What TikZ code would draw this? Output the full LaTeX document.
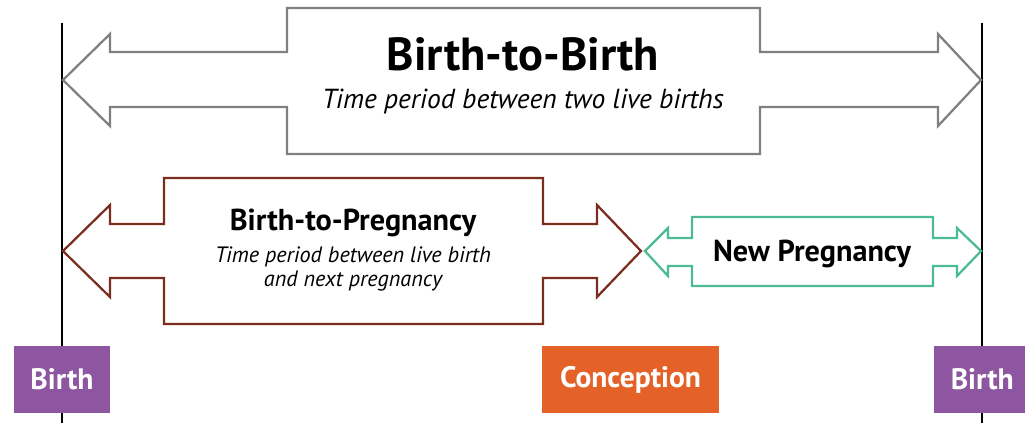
\documentclass[tikz,border=0pt]{standalone}
\usepackage{fontspec}
\setmainfont{PT Sans}
\usepackage{tikz}

\begin{document}
\begin{tikzpicture}[x=0.025cm,y=-0.025cm,line join=miter]
 \definecolor{birthpurple}{HTML}{8E55A0}
 \definecolor{concorange}{HTML}{E46227}
 \definecolor{pregbrown}{HTML}{7B2D1F}
 \definecolor{preggreen}{HTML}{4DBB92}
 \definecolor{spangray}{HTML}{808080}
 \tikzstyle{eventbox} = [inner sep=0,minimum height=67*0.025cm,text=white,font=\fontsize{21}{24}\selectfont\bfseries]
 \tikzstyle{timeline} = [line width=1.6pt,black]
 \tikzstyle{span} = [line width=1.6pt,fill=white]
 \useasboundingbox (0,0) rectangle (1025,423);

% Timelines behind everything
 \draw[timeline] (62,23) -- (62,423);
 \draw[timeline] (982,23) -- (982,423);

% Birth-to-Birth
 \draw[span,draw=spangray] (63,80) -- (110,34) -- (110,52) -- (287,52) -- (287,8) -- (760,8) -- (760,52)
   -- (938,52) -- (938,34) -- (981,80) -- (938,126) -- (938,107) -- (760,107) -- (760,154)
   -- (287,154) -- (287,107) -- (110,107) -- (110,126) -- cycle;
 \node (btbtitle) at (523,54) {\fontsize{33}{38}\selectfont\bfseries Birth-to-Birth};
 \node (btbsub) at (523,101) {\fontsize{19.6}{22}\selectfont\itshape Time period between two live births};

% Birth-to-Pregnancy
 \draw[span,draw=pregbrown] (63,251) -- (110,205) -- (110,224) -- (164,224) -- (164,178) -- (543,178) -- (543,224)
   -- (597,224) -- (597,205) -- (641,251) -- (597,297) -- (597,278) -- (543,278) -- (543,324)
   -- (164,324) -- (164,278) -- (110,278) -- (110,297) -- cycle;
 \node (btptitle) at (353,223) {\fontsize{21.5}{25}\selectfont\bfseries Birth-to-Pregnancy};
 \node[align=center,font=\fontsize{15.8}{16.5}\selectfont\itshape] (btpsub) at (353,269)
   {Time period between live birth\\and next pregnancy};

% New Pregnancy
 \draw[span,draw=preggreen] (645,251) -- (668,228) -- (668,238) -- (692,238) -- (692,217) -- (933,217) -- (933,238)
   -- (957,238) -- (957,228) -- (981,251) -- (957,276) -- (957,266) -- (933,266) -- (933,286)
   -- (692,286) -- (692,266) -- (668,266) -- (668,276) -- cycle;
 \node (newpreg) at (812,254) {\fontsize{21.5}{25}\selectfont\bfseries New Pregnancy};

% Events
 \node[eventbox,fill=birthpurple,minimum width=96*0.025cm] (birthL) at (62,379.5) {Birth};
 \node[eventbox,fill=concorange,minimum width=177*0.025cm] (conception) at (630.5,379.5) {Conception};
 \node[eventbox,fill=birthpurple,minimum width=96*0.025cm,anchor=west] (birthR) at (934,379.5) {Birth};

\end{tikzpicture}
\end{document}
